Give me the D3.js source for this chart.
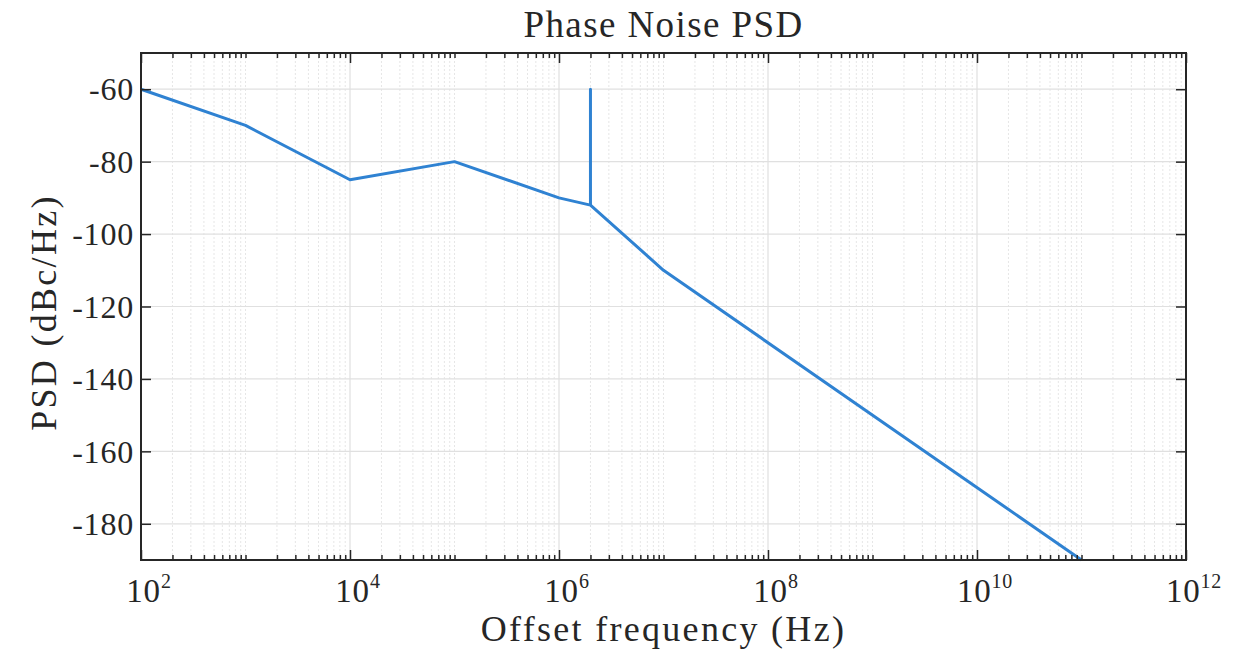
<!DOCTYPE html>
<html><head><meta charset="utf-8">
<script src="https://cdn.jsdelivr.net/npm/d3@7"></script>
<style>body{margin:0;background:#fff}svg{display:block}</style>
</head><body>
<svg id="c" width="1242" height="657"></svg>
<script>
const freqs = [1e2, 1e3, 1e4, 1e5, 1e6, 2e6, 2e6, 2e6, 1e7, 1e11];
const psd   = [-60, -70, -85, -80, -90, -92, -60, -92, -110, -190];
const yTicks = [-180, -160, -140, -120, -100, -80, -60];
const xTickExps = [2, 4, 6, 8, 10, 12];
const title = "Phase Noise PSD";
const xLabel = "Offset frequency (Hz)";
const yLabel = "PSD (dBc/Hz)";

const W = 1242, H = 657;
const m = {l: 141, r: 56, t: 53, b: 97};
const pw = W - m.l - m.r, ph = H - m.t - m.b;
const font = "'Liberation Serif', serif";
const svg = d3.select("#c");
const g = svg.append("g").attr("transform", `translate(${m.l},${m.t})`);

const x = d3.scaleLog().domain([1e2, 1e12]).range([0, pw]);
const y = d3.scaleLinear().domain([-190, -50]).range([ph, 0]);

const majors = xTickExps.map(e => Math.pow(10, e));
const all = [];
for (let e = 2; e < 12; e++) for (let k = 1; k <= 9; k++) all.push(k * Math.pow(10, e));
all.push(1e12);
const minors = all.filter(v => !majors.some(mj => Math.abs(mj - v) / v < 1e-9));

// minor grid
g.append("g").selectAll("line").data(minors).join("line")
  .attr("x1", d => x(d)).attr("x2", d => x(d)).attr("y1", 0).attr("y2", ph)
  .attr("stroke", "#e6e6e6").attr("stroke-width", 1).attr("stroke-dasharray", "2,2");
// major grid
g.append("g").selectAll("line").data(majors).join("line")
  .attr("x1", d => x(d)).attr("x2", d => x(d)).attr("y1", 0).attr("y2", ph)
  .attr("stroke", "#e0e0e0").attr("stroke-width", 1.2);
g.append("g").selectAll("line").data(yTicks).join("line")
  .attr("x1", 0).attr("x2", pw).attr("y1", d => y(d)).attr("y2", d => y(d))
  .attr("stroke", "#e0e0e0").attr("stroke-width", 1.2);

// data line
const line = d3.line().x((d, i) => x(freqs[i])).y(d => y(d));
g.append("path").datum(psd).attr("d", line).attr("fill", "none")
  .attr("stroke", "#2f82d2").attr("stroke-width", 3).attr("stroke-linejoin", "round");

// axes (inward ticks) with d3 axis generators
const ax = "#262626";
function style(sel) {
  sel.select(".domain").remove();
  sel.selectAll(".tick line").attr("stroke", ax).attr("stroke-width", 1.5);
}
g.append("g").attr("transform", `translate(0,${ph})`)
  .call(d3.axisBottom(x).tickValues(majors).tickSize(-10).tickFormat(""))
  .call(style);
g.append("g").attr("transform", `translate(0,${ph})`)
  .call(d3.axisBottom(x).tickValues(minors).tickSize(-5).tickFormat(""))
  .call(style);
g.append("g").call(d3.axisTop(x).tickValues(majors).tickSize(-10).tickFormat("")).call(style);
g.append("g").call(d3.axisTop(x).tickValues(minors).tickSize(-5).tickFormat("")).call(style);
g.append("g").call(d3.axisLeft(y).tickValues(yTicks).tickSize(-10).tickFormat("")).call(style);
g.append("g").attr("transform", `translate(${pw},0)`)
  .call(d3.axisRight(y).tickValues(yTicks).tickSize(-10).tickFormat("")).call(style);

// frame
g.append("rect").attr("x", 0).attr("y", 0).attr("width", pw).attr("height", ph)
  .attr("fill", "none").attr("stroke", ax).attr("stroke-width", 2);

// y tick labels
g.append("g").selectAll("text").data(yTicks).join("text")
  .attr("x", -7).attr("y", d => y(d)).attr("dy", "0.35em")
  .attr("text-anchor", "end").attr("font-family", font).attr("font-size", 32)
  .attr("letter-spacing", 0.8).attr("fill", "#262626").text(d => String(d));

// x tick labels
const xl = g.append("g").selectAll("text").data(xTickExps).join("text")
  .attr("x", d => x(Math.pow(10, d)) + 8).attr("y", ph + 42)
  .attr("text-anchor", "middle").attr("font-family", font).attr("font-size", 33)
  .attr("letter-spacing", 0.8).attr("fill", "#262626");
xl.append("tspan").text("10");
xl.append("tspan").attr("dy", -14).attr("font-size", 20).text(d => d);

// title and labels
svg.append("text").attr("x", m.l + pw / 2).attr("y", 37).attr("text-anchor", "middle")
  .attr("font-family", font).attr("font-size", 37).attr("letter-spacing", 1.4)
  .attr("fill", "#262626").text(title);
svg.append("text").attr("x", m.l + pw / 2).attr("y", 641).attr("text-anchor", "middle")
  .attr("font-family", font).attr("font-size", 36).attr("letter-spacing", 2.3)
  .attr("fill", "#262626").text(xLabel);
svg.append("text").attr("transform", `translate(56,${m.t + ph / 2 + 6}) rotate(-90)`)
  .attr("text-anchor", "middle").attr("font-family", font).attr("font-size", 36)
  .attr("letter-spacing", 2.3).attr("fill", "#262626").text(yLabel);
</script>
</body></html>
